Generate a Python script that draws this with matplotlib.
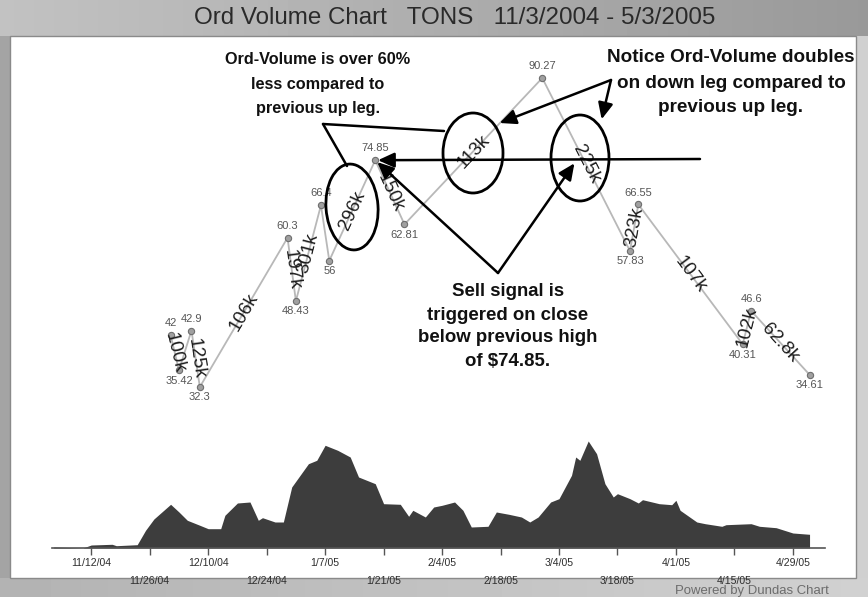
import numpy as np
import pandas as pd
import matplotlib
matplotlib.use("Agg")
import matplotlib.pyplot as plt
import matplotlib.dates as mdates
from matplotlib.patches import Ellipse, Rectangle
from matplotlib import font_manager

# ------------------------------------------------------------------ data
price_dates = ['2004-12-01', '2004-12-03', '2004-12-06', '2004-12-08', '2004-12-29',
               '2004-12-31', '2005-01-06', '2005-01-08', '2005-01-19', '2005-01-26',
               '2005-02-28', '2005-03-21', '2005-03-23', '2005-04-17', '2005-04-19',
               '2005-05-03']
price_vals = [42, 35.42, 42.9, 32.3, 60.3, 48.43, 66.4, 56, 74.85, 62.81,
              90.27, 57.83, 66.55, 40.31, 46.6, 34.61]
price_labels = ['42', '35.42', '42.9', '32.3', '60.3', '48.43', '66.4', '56', '74.85',
                '62.81', '90.27', '57.83', '66.55', '40.31', '46.6', '34.61']
# Ord-Volume of each leg (point i -> point i+1); '' = not shown
leg_volume = ['100k', '', '125k', '106k', '197k', '301k', '', '296k', '150k',
              '113k', '225k', '323k', '107k', '102k', '62.8k']

vol_start = '2004-11-03'
vol_day = [0, 7, 9, 14, 15, 20, 22, 24, 28, 30, 32, 35, 37, 40, 41, 44, 47, 49, 50, 53,
           55, 57, 61, 63, 65, 68, 71, 72, 73, 77, 79, 83, 85, 86, 89, 91, 93, 96, 98,
           100, 104, 106, 109, 112, 114, 116, 119, 121, 124, 125, 126, 128, 130, 132,
           134, 135, 138, 140, 141, 145, 148, 149, 150, 154, 156, 160, 161, 167, 169,
           173, 177, 181]
vol_val = [1, 0, 3, 3.7, 2.3, 3.3, 17.7, 29, 43.7, 36, 27.7, 22.7, 19.3, 19.3, 32.7, 45,
           46, 27.7, 30.3, 26, 26, 61, 84.3, 87.7, 102.7, 97.7, 91, 81, 71, 64.3, 44.3,
           43.7, 31.7, 37.7, 31, 41, 42.7, 46, 37.7, 21, 21.7, 36, 33.7, 31, 26, 31, 46,
           49.3, 72.7, 91, 87.7, 107, 94.3, 64.3, 51, 54.3, 49.3, 45, 48.3, 44.3, 43.3,
           47.7, 37.7, 26, 24.3, 21.7, 23.3, 24.3, 21.7, 20.3, 15, 13.7]

tick_dates = ['2004-11-12', '2004-11-26', '2004-12-10', '2004-12-24', '2005-01-07',
              '2005-01-21', '2005-02-04', '2005-02-18', '2005-03-04', '2005-03-18',
              '2005-04-01', '2005-04-15', '2005-04-29']
tick_labels = ['11/12/04', '11/26/04', '12/10/04', '12/24/04', '1/7/05', '1/21/05',
               '2/4/05', '2/18/05', '3/4/05', '3/18/05', '4/1/05', '4/15/05', '4/29/05']

title = 'Ord Volume Chart   TONS   11/3/2004 - 5/3/2005'
note_left = ['Ord-Volume is over 60%', 'less compared to', 'previous up leg.']
note_right = ['Notice Ord-Volume doubles', 'on down leg compared to', 'previous up leg.']
note_sell = ['Sell signal is', 'triggered on close', 'below previous high', 'of $74.85.']
credit = 'Powered by Dundas Chart'

# ------------------------------------------------------------------ fonts
names = {f.name for f in font_manager.fontManager.ttflist}
NARROW = 'Liberation Sans Narrow' in names
cond = ['Liberation Sans Narrow', 'Liberation Sans', 'DejaVu Sans'] if NARROW else ['Liberation Sans', 'DejaVu Sans']
reg = ['Liberation Sans', 'DejaVu Sans']

W, H = 868, 597
fig = plt.figure(figsize=(W / 100, H / 100), dpi=100)
renderer = fig.canvas.get_renderer()


def fit(t, target_px):
    bb = t.get_window_extent(renderer)
    t.set_fontsize(t.get_fontsize() * target_px / max(bb.width, 1))


# background frame
bg = fig.add_axes([0, 0, 1, 1], zorder=0)
bg.set_xlim(0, W)
bg.set_ylim(H, 0)
bg.axis('off')
grad = np.linspace(0, 1, 256)[None, :]
bg.imshow(0.76 - 0.16 * grad, cmap='gray', vmin=0, vmax=1, aspect='auto',
          extent=(0, W, 36, 0), zorder=0)
bg.add_patch(Rectangle((0, 36), W, H - 36, facecolor='#a4a4a4', edgecolor='none', zorder=0))
bg.imshow(0.70 + 0.12 * grad, cmap='gray', vmin=0, vmax=1, aspect='auto',
          extent=(0, W, H, 578), zorder=1)
bg.add_patch(Rectangle((856, 36), 12, 542, facecolor='#d0d0d0', edgecolor='none', zorder=1))
bg.add_patch(Rectangle((10, 36), 846, 542, facecolor='white', edgecolor='#8a8a8a', lw=1, zorder=2))
tt = bg.text(455, 18, title, ha='center', va='center', color='#2a2a2a',
             family=cond, fontsize=16, zorder=3)
fit(tt, 520)
cr = bg.text(752, 591, credit, ha='center', va='center', color='#6c6c6c',
             family=cond, fontsize=9, zorder=3)
fit(cr, 155)

start = pd.Timestamp(vol_start)
x0 = mdates.date2num(start) - 0.4
x1 = mdates.date2num(start) + 184.7

# volume area
vax = fig.add_axes([52 / W, 1 - 548 / H, 773 / W, 118 / H], zorder=1)
vax.set_facecolor('none')
vdates = mdates.date2num(start + pd.to_timedelta(vol_day, unit='D'))
vax.fill_between(vdates, vol_val, 0, color='#3d3d3d', lw=0)
vax.set_xlim(x0, x1)
vax.set_ylim(0, 118)
for s in ['top', 'right', 'left']:
    vax.spines[s].set_visible(False)
vax.spines['bottom'].set_color('#555555')
vax.spines['bottom'].set_linewidth(1.2)
vax.set_yticks([])
tnum = mdates.date2num(pd.to_datetime(tick_dates))
vax.set_xticks(tnum[0::2])
vax.set_xticklabels(tick_labels[0::2])
vax.set_xticks(tnum[1::2], minor=True)
vax.set_xticklabels(tick_labels[1::2], minor=True)
tick_fs = 8.5 if NARROW else 7.6
vax.tick_params(axis='x', which='major', length=5, width=1, color='#555555', pad=2.5,
                labelsize=tick_fs, labelcolor='#2e2e2e')
vax.tick_params(axis='x', which='minor', length=5, width=1, color='#555555', pad=15,
                labelsize=tick_fs, labelcolor='#2e2e2e')
for lab in vax.get_xticklabels(which='both'):
    lab.set_family(cond)

# price line
pax = fig.add_axes([52 / W, 1 - 420 / H, 773 / W, 380 / H], zorder=2)
pax.set_facecolor('none')
pax.axis('off')
pax.set_xlim(x0, x1)
pax.set_ylim(26.11, 97.40)
px = mdates.date2num(pd.to_datetime(price_dates))
pax.plot(px, price_vals, color='#b8b8b8', lw=1.3, zorder=2)
pax.plot(px, price_vals, 'o', ms=4.5, mfc='#a0a0a0', mec='#6e6e6e', mew=0.8, zorder=3)
n = len(price_vals)
for i in range(n):
    prev_v = price_vals[i - 1] if i > 0 else None
    next_v = price_vals[i + 1] if i < n - 1 else None
    ref = next_v if next_v is not None else prev_v
    peak = price_vals[i] > ref
    pax.annotate(price_labels[i], (px[i], price_vals[i]),
                 xytext=(0, 8.5 if peak else -7.5), textcoords='offset points',
                 ha='center', va='center', fontsize=8, color='#555555', family=reg, zorder=4)
for i, lab in enumerate(leg_volume):
    if not lab:
        continue
    p0 = pax.transData.transform((px[i], price_vals[i]))
    p1 = pax.transData.transform((px[i + 1], price_vals[i + 1]))
    ang = np.degrees(np.arctan2(p1[1] - p0[1], p1[0] - p0[0]))
    pax.text((px[i] + px[i + 1]) / 2, (price_vals[i] + price_vals[i + 1]) / 2, lab,
             rotation=ang, rotation_mode='anchor', ha='center', va='center',
             fontsize=13.5, color='#1c1c1c', family=reg, zorder=5)

# annotation overlay (pixel coordinates)
ov = fig.add_axes([0, 0, 1, 1], zorder=3)
ov.set_facecolor('none')
ov.set_xlim(0, W)
ov.set_ylim(H, 0)
ov.axis('off')

for (cx, cy, w, h, a) in [(352, 207, 52, 86, -4), (473, 153, 60, 80, 0), (580, 158, 58, 86, 0)]:
    ov.add_patch(Ellipse((cx, cy), w, h, angle=a, fill=False, ec='black', lw=2.0))

arrow = dict(arrowstyle='-|>,head_length=0.7,head_width=0.32', color='black', lw=1.8,
             mutation_scale=14, shrinkA=0, shrinkB=2)
plain = dict(arrowstyle='-', color='black', lw=1.8, shrinkA=0, shrinkB=0)
i74 = price_vals.index(74.85)
ov.annotate('', xy=(px[i74], 74.85), xycoords=pax.transData, xytext=(700, 159),
            textcoords='data', arrowprops=arrow)
ov.annotate('', xy=(px[i74], 74.85), xycoords=pax.transData, xytext=(498, 273),
            textcoords='data', arrowprops=arrow)
ov.annotate('', xy=(576, 161), xytext=(498, 273), arrowprops=arrow)
ov.annotate('', xy=(444, 131), xytext=(323, 124), arrowprops=plain)
ov.annotate('', xy=(347, 166), xytext=(323, 124), arrowprops=plain)
ov.annotate('', xy=(497, 124), xytext=(611, 80), arrowprops=arrow)
ov.annotate('', xy=(601, 122), xytext=(611, 80), arrowprops=arrow)


def block(lines, cx, ys, widest_px):
    ts = [ov.text(cx, y, s, ha='center', va='center', family=cond, fontweight='bold',
                  fontsize=13, color='#111111') for s, y in zip(lines, ys)]
    w = max(t.get_window_extent(renderer).width for t in ts)
    for t in ts:
        t.set_fontsize(13 * widest_px / w)


block(note_left, 318, [59, 84, 108], 186)
block(note_right, 731, [57, 83, 108], 246)
block(note_sell, 508, [292, 315, 338, 361], 180)

fig.savefig('out.png', dpi=100)
